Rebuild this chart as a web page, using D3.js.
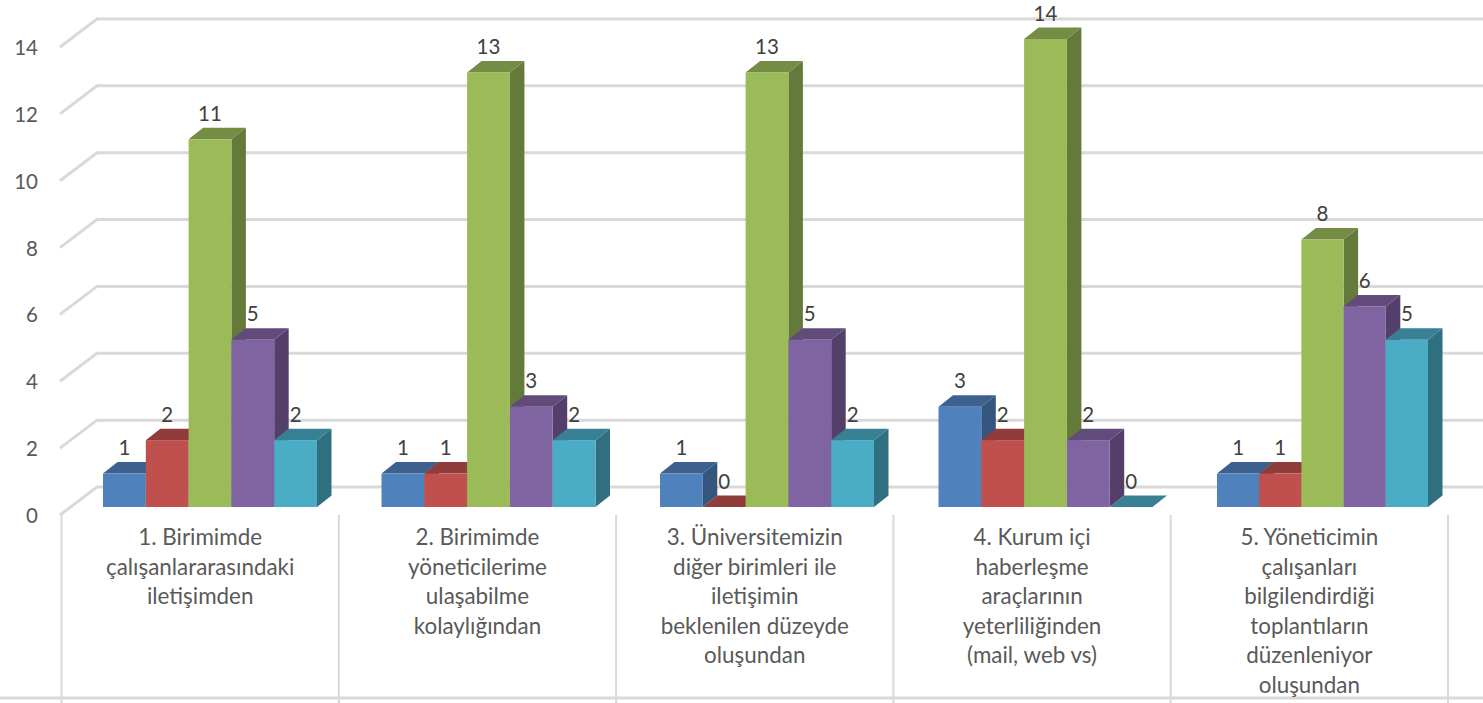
<!DOCTYPE html>
<html>
<head>
<meta charset="utf-8">
<script src="https://cdn.jsdelivr.net/npm/d3@7"></script>
<style>
  html, body { margin: 0; padding: 0; background: #fff; overflow: hidden; }
  svg { display: block; }
  text { font-family: Lato, "Open Sans", sans-serif; font-size: 20.5px; }
  .axis-y text { fill: #595959; font-size: 20.5px; }
  .axis-y path { display: none; }
  .cat-label { fill: #595959; text-anchor: middle; font-size: 22.4px; }
  .value-label { fill: #404040; text-anchor: middle; }
  .grid { stroke: #d9d9d9; stroke-width: 3; fill: none; }
  .cell { stroke: #d9d9d9; stroke-width: 2; fill: none; }
</style>
</head>
<body>
<svg id="chart" width="1483" height="703"></svg>
<script>
const categories = ['q1', 'q2', 'q3', 'q4', 'q5'];
const categoryLines = [
  ['1. Birimimde', 'çalışanlararasındaki', 'iletişimden'],
  ['2. Birimimde', 'yöneticilerime', 'ulaşabilme', 'kolaylığından'],
  ['3. Üniversitemizin', 'diğer birimleri ile', 'iletişimin', 'beklenilen düzeyde', 'oluşundan'],
  ['4. Kurum içi', 'haberleşme', 'araçlarının', 'yeterliliğinden', '(mail, web vs)'],
  ['5. Yöneticimin', 'çalışanları', 'bilgilendirdiği', 'toplantıların', 'düzenleniyor', 'oluşundan']
];
const seriesNames = ['s1', 's2', 's3', 's4', 's5'];
const seriesValues = [
  [1, 1, 1, 3, 1],
  [2, 1, 0, 2, 1],
  [11, 13, 13, 14, 8],
  [5, 3, 5, 2, 6],
  [2, 2, 2, 0, 5]
];
const frontColors = ['#4f81bd', '#c0504d', '#9bbb59', '#8064a2', '#4bacc6'];
const topColors = ['#3c618f', '#903c3a', '#748c43', '#604b7a', '#388195'];
const sideColors = ['#34557d', '#7e3533', '#647a3a', '#533f6a', '#306f80'];
const yTicks = [0, 2, 4, 6, 8, 10, 12, 14];

const svg = d3.select('#chart');

// Front plane of the bars, the walls sit behind it
const y = d3.scaleLinear().domain([0, 14]).range([507, 39]);
const xBars = d3.scalePoint().domain(categories).range([103, 1217]);
const xCells = d3.scalePoint().domain(d3.range(6)).range([61.5, 1448]);

// The last group is drawn a little narrower in the picture
const groupWidths = [214, 214, 214, 214, 211];
const xSeries = d3.scaleBand().domain(seriesNames);

const depthX = 14.5;
const depthY = 11.5;
const wallY = -20;
const floorY = 8;

// Gridlines on the back wall and side wall
svg.append('g').selectAll('path').data(yTicks)
  .enter().append('path')
    .attr('class', 'grid')
    .attr('d', d => `M60,${y(d) + floorY}L97,${y(d) + wallY}H1483`);

// Category cells under the floor
svg.append('g').selectAll('line').data(d3.range(6))
  .enter().append('line')
    .attr('class', 'cell')
    .attr('x1', d => xCells(d))
    .attr('x2', d => xCells(d))
    .attr('y1', 515)
    .attr('y2', 703);

svg.append('line')
  .attr('class', 'grid')
  .attr('x1', 0)
  .attr('x2', 1483)
  .attr('y1', 698)
  .attr('y2', 698);

// Y axis labels
svg.append('g')
  .attr('class', 'axis-y')
  .attr('transform', `translate(38,${floorY + 1})`)
  .call(d3.axisLeft(y).tickValues(yTicks).tickSize(0).tickPadding(0))
  .selectAll('text').style('font-family', 'Lato');

// Bars, left to right so each one hides the side of the one before
const barsLayer = svg.append('g');
const labelsLayer = svg.append('g');

categories.forEach((cat, c) => {
  xSeries.range([0, groupWidths[c]]);
  const w = xSeries.bandwidth();

  seriesNames.forEach((s, i) => {
    const v = seriesValues[i][c];
    const x0 = xBars(cat) + xSeries(s);
    const x1 = x0 + w;
    const yTop = y(v);
    const yBase = y(0);

    if (v > 0) {
      barsLayer.append('path')
        .attr('fill', sideColors[i])
        .attr('d', `M${x1},${yTop}l${depthX},${-depthY}V${yBase - depthY}L${x1},${yBase}Z`);
    }
    barsLayer.append('path')
      .attr('fill', topColors[i])
      .attr('d', `M${x0},${yTop}l${depthX},${-depthY}h${w}l${-depthX},${depthY}Z`);
    if (v > 0) {
      barsLayer.append('rect')
        .attr('x', x0)
        .attr('y', yTop)
        .attr('width', w)
        .attr('height', yBase - yTop)
        .attr('fill', frontColors[i]);
    }

    labelsLayer.append('text')
      .attr('class', 'value-label')
      .attr('x', x0 + w / 2)
      .attr('y', yTop - 18.5)
      .text(v);
  });
});

// Category labels, one text line per row
const lineHeight = 29.6;
svg.append('g').selectAll('text').data(categoryLines)
  .enter().append('text')
    .attr('class', 'cat-label')
    .attr('x', (d, i) => (xCells(i) + xCells(i + 1)) / 2)
    .attr('y', 545)
    .selectAll('tspan').data(d => d)
    .enter().append('tspan')
      .attr('x', function() { return d3.select(this.parentNode).attr('x'); })
      .attr('dy', (d, i) => i === 0 ? 0 : lineHeight)
      .text(d => d);
</script>
</body>
</html>
